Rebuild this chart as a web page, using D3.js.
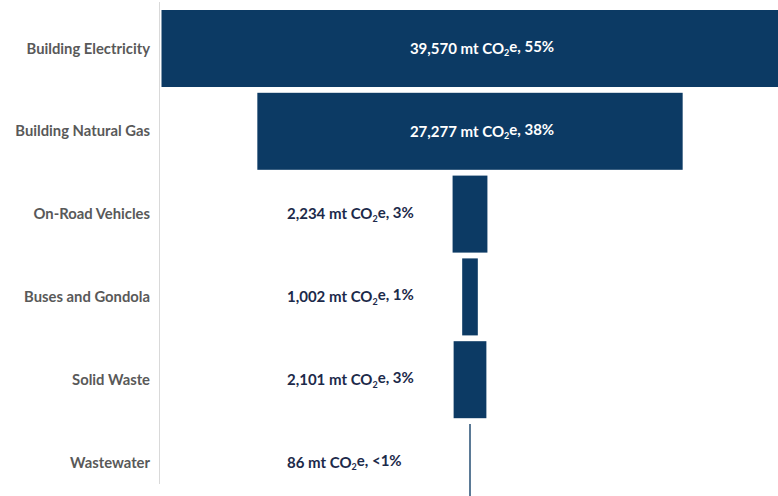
<!DOCTYPE html>
<html>
<head>
<meta charset="utf-8">
<script src="https://cdn.jsdelivr.net/npm/d3@7"></script>
<style>
  body { margin: 0; background: #fff; }
  svg { display: block; }
</style>
</head>
<body>
<div class="chart"></div>
<script>
const width = 778
const height = 496

const categories = ["Building Electricity", "Building Natural Gas", "On-Road Vehicles", "Buses and Gondola", "Solid Waste", "Wastewater"];
const emissions = [39570, 27277, 2234, 1002, 2101, 86];
const shares = ["55%", "38%", "3%", "1%", "3%", "<1%"];

const barColor = "#0c3a64";
const centerX = 470;
const fmt = d3.format(",");

const data = categories.map((c, i) => ({name: c, value: emissions[i], share: shares[i]}));

const svg = d3.create("svg")
  .attr("width", width)
  .attr("height", height)
  .attr("viewBox", [0, 0, width, height]);

// bar width grows out from the centre line
const x = d3.scaleLinear()
  .domain([0, d3.max(emissions)])
  .range([0, 617]);

const y = d3.scaleBand()
  .domain(categories)
  .range([10, 501])
  .paddingInner(0.07)
  .paddingOuter(0);

// thin grey axis line left of bars
svg.append("line")
  .attr("x1", 159.5).attr("x2", 159.5)
  .attr("y1", 2).attr("y2", 484)
  .attr("stroke", "#d9d9d9")
  .attr("stroke-width", 1);

svg.append("g")
  .selectAll("rect")
  .data(data)
  .join("rect")
  .attr("x", d => centerX - x(d.value) / 2)
  .attr("y", d => y(d.name))
  .attr("width", d => x(d.value))
  .attr("height", y.bandwidth())
  .attr("fill", barColor);

// category labels
svg.append("g")
  .selectAll("text")
  .data(data)
  .join("text")
  .attr("x", 150)
  .attr("y", d => y(d.name) + y.bandwidth() / 2)
  .attr("dy", "0.35em")
  .attr("text-anchor", "end")
  .style("font", "bold 14.8px Lato, sans-serif")
  .attr("fill", "#595959")
  .text(d => d.name);

// value labels, inside the big bars, left of the small ones
const big = d => x(d.value) > 200;

const labels = svg.append("g")
  .selectAll("text")
  .data(data)
  .join("text")
  .attr("x", d => big(d) ? 482 : 287)
  .attr("y", d => y(d.name) + y.bandwidth() / 2)
  .attr("dy", "0.35em")
  .attr("text-anchor", d => big(d) ? "middle" : "start")
  .style("font", "bold 15px Lato, sans-serif")
  .attr("fill", d => big(d) ? "#ffffff" : "#1c2a4a");

labels.append("tspan").text(d => `${fmt(d.value)} mt CO`);
labels.append("tspan")
  .attr("dy", "0.3em")
  .style("font-size", "9px")
  .text("2");
labels.append("tspan")
  .attr("dy", "-0.3em")
  .text(d => `e, ${d.share}`);

document.querySelector(".chart").append(svg.node());
</script>
</body>
</html>
